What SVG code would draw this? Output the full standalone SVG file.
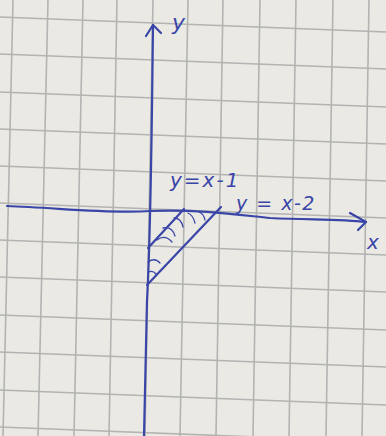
<svg xmlns="http://www.w3.org/2000/svg" width="386" height="436" viewBox="0 0 386 436">
<style>
.grid line{stroke:#b2b3b2;stroke-width:1.6}
.ink{stroke:#3a45a8;fill:none;stroke-width:2.2;stroke-linecap:round;stroke-linejoin:round}
.hatch{stroke:#3a45a8;fill:none;stroke-width:1.3;stroke-linecap:round}
.lbl{font-family:"DejaVu Sans",sans-serif;font-style:italic;fill:#3a45a8}
</style>
<rect width="386" height="436" fill="#ebe9e3"/>
<g class="grid" id="grid">
<line x1="13" y1="0" x2="3" y2="436"/>
<line x1="48" y1="0" x2="38" y2="436"/>
<line x1="83" y1="0" x2="74" y2="436"/>
<line x1="117" y1="0" x2="109" y2="436"/>
<line x1="153" y1="0" x2="145" y2="436"/>
<line x1="188" y1="0" x2="180" y2="436"/>
<line x1="223" y1="0" x2="216" y2="436"/>
<line x1="260" y1="0" x2="253" y2="436"/>
<line x1="296" y1="0" x2="289" y2="436"/>
<line x1="333" y1="0" x2="326" y2="436"/>
<line x1="369" y1="0" x2="362" y2="436"/>
<line x1="0" y1="17" x2="386" y2="32"/>
<line x1="0" y1="54" x2="386" y2="69"/>
<line x1="0" y1="92" x2="386" y2="107"/>
<line x1="0" y1="129" x2="386" y2="144"/>
<line x1="0" y1="166" x2="386" y2="181"/>
<line x1="0" y1="203" x2="386" y2="218"/>
<line x1="0" y1="240" x2="386" y2="255"/>
<line x1="0" y1="277" x2="386" y2="292"/>
<line x1="0" y1="315" x2="386" y2="330"/>
<line x1="0" y1="352" x2="386" y2="367"/>
<line x1="0" y1="390" x2="386" y2="405"/>
<line x1="0" y1="427" x2="386" y2="442"/>
</g>
<g id="connectors">
<path id="y-axis" class="ink" d="M153,25 C152,120 150,250 147,300 C146,350 145,400 144,436"/>
<path class="ink" d="M146,36 L153,25 L161,33"/>
<path id="x-axis" class="ink" d="M7,206 C60,208 110,214 150,211 C200,209 240,215 270,218 C310,220 340,219 366,222"/>
<path class="ink" d="M350,213 L366,222 L358,230"/>
<path id="line1" class="ink" d="M148,248 L184,209"/>
<path id="line2" class="ink" d="M147,285 L221,207"/>
<path class="hatch" d="M157,240 Q165,234 172,242 M163,228 Q172,226 175,236 M174,218 Q181,218 183,227 M188,213 Q193,215 195,223 M199,212 Q204,214 205,220 M148,262 Q155,257 160,263 M148,272 Q153,270 156,274"/>
</g>
<g id="labels">
<text class="lbl" x="172" y="30" font-size="22">y</text>
<text class="lbl" x="170" y="187" font-size="20" letter-spacing="2">y=x-1</text>
<text class="lbl" x="236" y="210" font-size="19" letter-spacing="1.5">y = x-2</text>
<text class="lbl" x="367" y="249" font-size="20">x</text>
</g>
</svg>
